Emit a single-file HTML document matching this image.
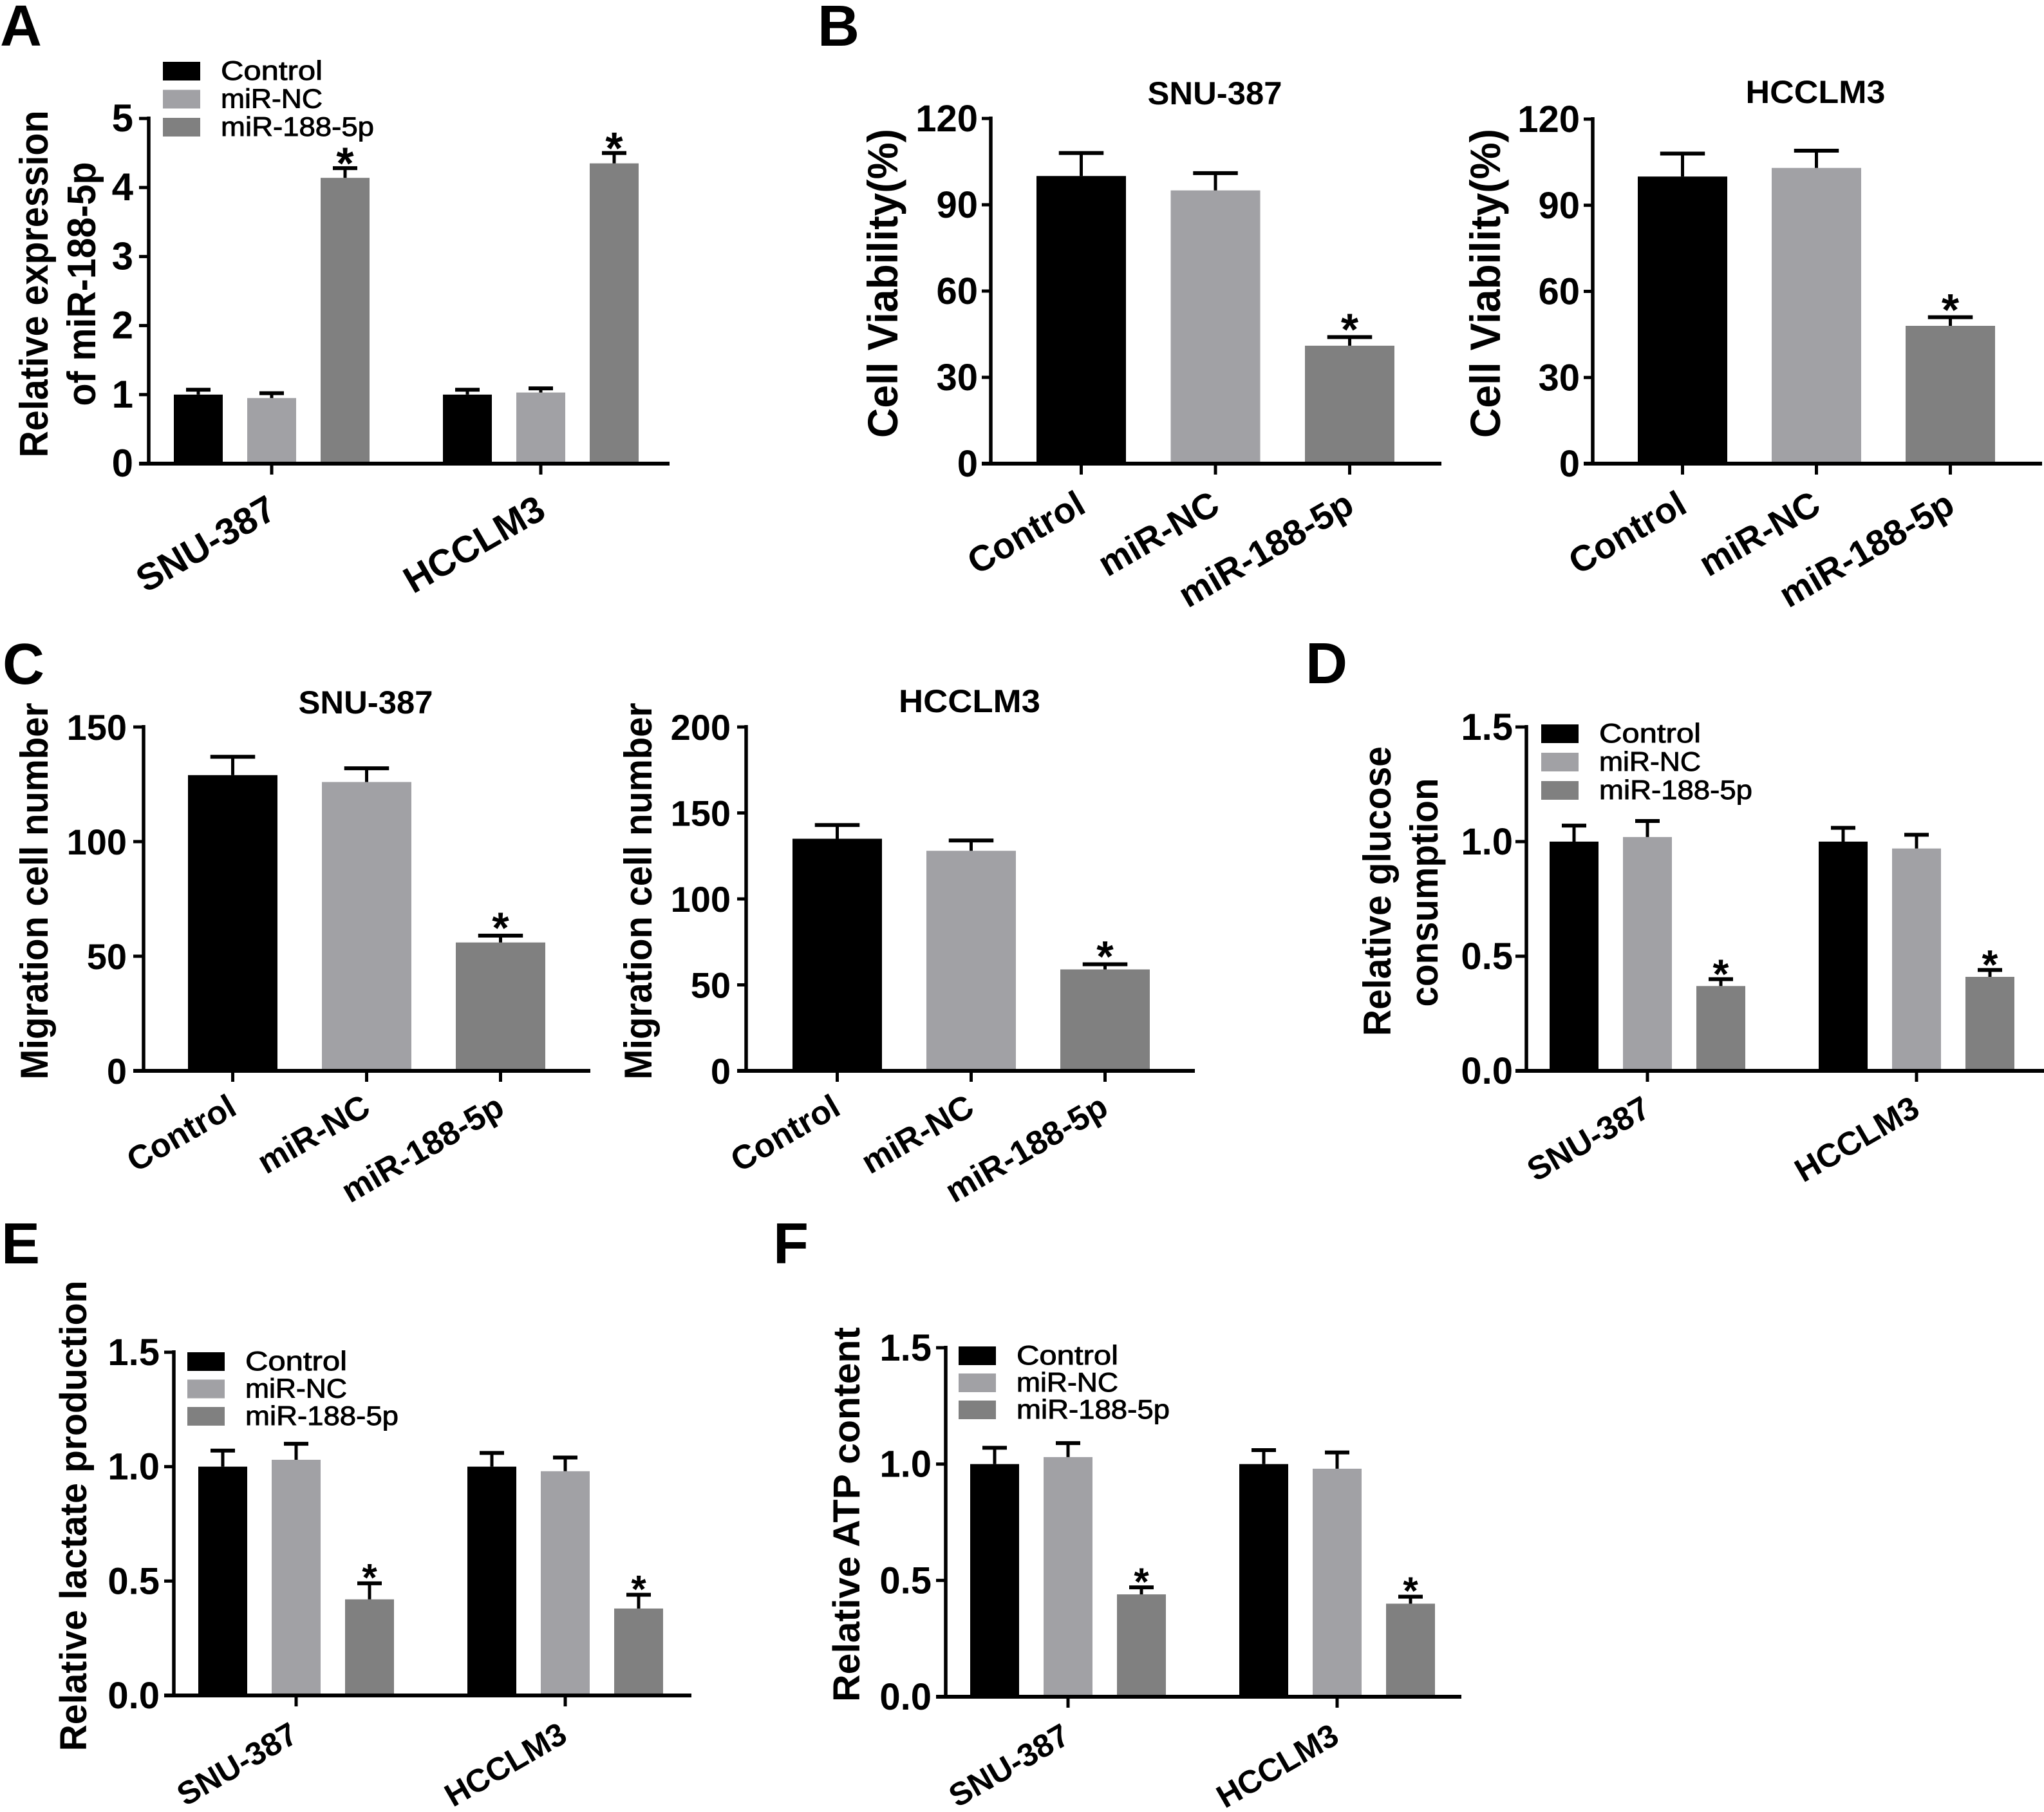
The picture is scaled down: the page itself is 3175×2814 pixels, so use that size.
<!DOCTYPE html>
<html lang="en">
<head>
<meta charset="utf-8">
<title>miR-188-5p bar chart panels</title>
<style>
html,body{margin:0;padding:0;background:#fff;}
svg{display:block;}
text{font-family:"Liberation Sans",Arial,sans-serif;fill:#000;}
</style>
</head>
<body>
<svg id="figure" xmlns="http://www.w3.org/2000/svg" width="3175" height="2814" viewBox="0 0 3175 2814"></svg>
<script>
const seriesNames = ['Control', 'miR-NC', 'miR-188-5p'];
const groupedCategories = ['SNU-387', 'HCCLM3'];

const aTicks = ['0', '1', '2', '3', '4', '5'];
const aValues = [1, 0.95, 4.14, 1, 1.03, 4.35];
const aErrorTops = [1.07, 1.02, 4.28, 1.07, 1.09, 4.5];

const b1Ticks = ['0', '30', '60', '90', '120'];
const b1Values = [100, 95, 41];
const b1ErrorTops = [108, 101, 44];

const b2Ticks = ['0', '30', '60', '90', '120'];
const b2Values = [100, 103, 48];
const b2ErrorTops = [108, 109, 51];

const c1Ticks = ['0', '50', '100', '150'];
const c1Values = [129, 126, 56];
const c1ErrorTops = [137, 132, 59];

const c2Ticks = ['0', '50', '100', '150', '200'];
const c2Values = [135, 128, 59];
const c2ErrorTops = [143, 134, 62];

const dTicks = ['0.0', '0.5', '1.0', '1.5'];
const dValues = [1, 1.02, 0.37, 1, 0.97, 0.41];
const dErrorTops = [1.07, 1.09, 0.40, 1.06, 1.03, 0.44];

const eTicks = ['0.0', '0.5', '1.0', '1.5'];
const eValues = [1, 1.03, 0.42, 1, 0.98, 0.38];
const eErrorTops = [1.07, 1.10, 0.49, 1.06, 1.04, 0.44];

const fTicks = ['0.0', '0.5', '1.0', '1.5'];
const fValues = [1, 1.03, 0.44, 1, 0.98, 0.40];
const fErrorTops = [1.07, 1.09, 0.47, 1.06, 1.05, 0.43];

const starredBar = 2;
const seriesColors = {0: '#000000', 1: '#a1a1a5', 2: '#808080'};
const NS = 'http://www.w3.org/2000/svg';
const svg = document.getElementById('figure');

function make(tag, attrs, parent) {
  const el = document.createElementNS(NS, tag);
  for (const k in attrs) el.setAttribute(k, attrs[k]);
  parent.appendChild(el);
  return el;
}

function drawPanel(p) {
  const g = make('g', {}, svg);
  
  

  const yMax = parseFloat(p.ticks[p.ticks.length - 1]);
  const yScale = v => p.y0 - (v / yMax) * (p.y0 - p.yTop);
  const perGroup = p.grouped ? 3 : 1;
  const xScale = i => {
    const group = Math.floor(i / 3);
    const inner = i % 3;
    return p.firstBar + inner * p.step + (p.grouped ? group * p.groupStep : 0);
  };

  p.values.forEach((v, i) => {
    const s = i % 3;
    const x = xScale(i);
    const bar = make('rect', {x: x, y: yScale(v), width: p.barW, height: p.y0 - yScale(v), fill: seriesColors[s]}, g);
    
    

    const cx = x + p.barW / 2;
    const capY = yScale(p.errors[i]);
    const stem = make('line', {x1: cx, x2: cx, y1: yScale(v), y2: capY, stroke: '#000', 'stroke-width': 5}, g);
    
    
    const cap = make('line', {x1: cx - p.barW / 4, x2: cx + p.barW / 4, y1: capY, y2: capY, stroke: '#000', 'stroke-width': 6}, g);
    
    

    if (s === starredBar) {
      const star = make('text', {x: cx, y: capY - p.starGap + 0.56 * p.starSize, 'font-size': p.starSize, 'font-weight': 'bold', 'text-anchor': 'middle'}, g);
      star.textContent = '*';
      
      
    }
  });

  const yAxis = make('line', {x1: p.axisX, x2: p.axisX, y1: p.yTop - 3, y2: p.y0 + 3, stroke: '#000', 'stroke-width': 5.5}, g);
  
  
  const xAxis = make('line', {x1: p.axisLeft, x2: p.axisRight, y1: p.y0, y2: p.y0, stroke: '#000', 'stroke-width': 6}, g);
  
  

  p.ticks.forEach(t => {
    const y = yScale(parseFloat(t));
    const tick = make('line', {x1: p.axisLeft, x2: p.axisX, y1: y, y2: y, stroke: '#000', 'stroke-width': 5}, g);
    
    
    const label = make('text', {x: p.axisLeft - p.yLabelGap, y: y + 20, 'font-size': p.tickFont, 'font-weight': 'bold', 'text-anchor': 'end'}, g);
    label.textContent = t;
    
    
  });

  p.categories.forEach((c, ci) => {
    const first = ci * perGroup;
    const last = first + perGroup - 1;
    const cx = (xScale(first) + xScale(last) + p.barW) / 2;
    const tick = make('line', {x1: cx, x2: cx, y1: p.y0, y2: p.y0 + 17, stroke: '#000', 'stroke-width': 5}, g);
    
    
    const lx = cx + p.xLabelDx;
    const ly = p.y0 + p.xLabelDy;
    const label = make('text', {x: lx, y: ly, transform: 'rotate(-30 ' + lx + ' ' + ly + ')', 'font-size': p.xFont, 'font-weight': 'bold', 'text-anchor': 'end'}, g);
    label.textContent = c;
    
    
  });

  p.yTitles.forEach(t => {
    const label = make('text', {
      transform: 'translate(' + t.x + ' ' + t.cy + ') rotate(-90)', x: 0, y: 0,
      'font-size': p.yTitleFont, 'font-weight': 'bold', 'text-anchor': 'middle',
      textLength: t.len, lengthAdjust: 'spacingAndGlyphs'
    }, g);
    label.textContent = t.text;
    
    
  });

  if (p.title) {
    const title = make('text', {x: p.title.cx, y: p.title.y, 'font-size': 50, 'font-weight': 'bold', 'text-anchor': 'middle', textLength: p.title.len, lengthAdjust: 'spacingAndGlyphs'}, g);
    title.textContent = p.title.text;
    
    
  }

  if (p.legend) {
    seriesNames.forEach((n, i) => {
      const top = p.legend.y + i * p.legend.gap;
      const swatch = make('rect', {x: p.legend.x, y: top, width: 58, height: 29, fill: seriesColors[i]}, g);
      
      
      const text = make('text', {x: p.legend.x + 90, y: top + 28, 'font-size': 42, stroke: '#000', 'stroke-width': 0.9, textLength: i === 2 ? 238 : 158, lengthAdjust: 'spacingAndGlyphs'}, g);
      text.textContent = n;
      
      
    });
  }

  if (p.letter) {
    const letter = make('text', {x: p.letter.x, y: p.letter.y, 'font-size': 90, 'font-weight': 'bold'}, g);
    letter.textContent = p.letter.text;
    
    
  }
}

drawPanel({id: 'a', grouped: true, categories: groupedCategories, ticks: aTicks, values: aValues, errors: aErrorTops,
  axisX: 231, axisLeft: 216, axisRight: 1040, y0: 720, yTop: 184, firstBar: 270, barW: 76, step: 114, groupStep: 418,
  starSize: 70, starGap: 23, tickFont: 60, yLabelGap: 9, xFont: 58, xLabelDx: 11, xLabelDy: 82, yTitleFont: 62,
  yTitles: [{text: 'Relative expression', x: 74, cy: 441, len: 539}, {text: 'of miR-188-5p', x: 148, cy: 441, len: 379}],
  legend: {x: 253, y: 96, gap: 43.5}, letter: {text: 'A', x: 0, y: 71}});

drawPanel({id: 'b-snu387', grouped: false, categories: seriesNames, ticks: b1Ticks, values: b1Values, errors: b1ErrorTops,
  axisX: 1539, axisLeft: 1525, axisRight: 2239, y0: 720, yTop: 184, firstBar: 1610, barW: 139, step: 208.5,
  starSize: 70, starGap: 27, tickFont: 58, yLabelGap: 6, xFont: 56, xLabelDx: 10, xLabelDy: 74, yTitleFont: 66,
  yTitles: [{text: 'Cell Viability(%)', x: 1394, cy: 440, len: 480}],
  title: {text: 'SNU-387', cx: 1887, y: 162, len: 209}, letter: {text: 'B', x: 1270, y: 71}});

drawPanel({id: 'b-hcclm3', grouped: false, categories: seriesNames, ticks: b2Ticks, values: b2Values, errors: b2ErrorTops,
  axisX: 2474, axisLeft: 2460, axisRight: 3172, y0: 720, yTop: 185, firstBar: 2544, barW: 139, step: 208,
  starSize: 70, starGap: 27, tickFont: 58, yLabelGap: 6, xFont: 56, xLabelDx: 10, xLabelDy: 74, yTitleFont: 66,
  yTitles: [{text: 'Cell Viability(%)', x: 2330, cy: 440, len: 480}],
  title: {text: 'HCCLM3', cx: 2820, y: 160, len: 217}});

drawPanel({id: 'c-snu387', grouped: false, categories: seriesNames, ticks: c1Ticks, values: c1Values, errors: c1ErrorTops,
  axisX: 223, axisLeft: 207, axisRight: 917, y0: 1663, yTop: 1129, firstBar: 292, barW: 139, step: 208,
  starSize: 68, starGap: 27, tickFont: 56, yLabelGap: 10, xFont: 52, xLabelDx: 9, xLabelDy: 66, yTitleFont: 60,
  yTitles: [{text: 'Migration cell number', x: 74, cy: 1384, len: 585}],
  title: {text: 'SNU-387', cx: 568, y: 1108, len: 209}, letter: {text: 'C', x: 4, y: 1062}});

drawPanel({id: 'c-hcclm3', grouped: false, categories: seriesNames, ticks: c2Ticks, values: c2Values, errors: c2ErrorTops,
  axisX: 1159, axisLeft: 1145, axisRight: 1856, y0: 1663, yTop: 1129, firstBar: 1231, barW: 139, step: 208,
  starSize: 68, starGap: 27, tickFont: 56, yLabelGap: 10, xFont: 52, xLabelDx: 8, xLabelDy: 66, yTitleFont: 60,
  yTitles: [{text: 'Migration cell number', x: 1012, cy: 1384, len: 585}],
  title: {text: 'HCCLM3', cx: 1506, y: 1106, len: 220}});

drawPanel({id: 'd', grouped: true, categories: groupedCategories, ticks: dTicks, values: dValues, errors: dErrorTops,
  axisX: 2371, axisLeft: 2354, axisRight: 3175, y0: 1663, yTop: 1129, firstBar: 2407, barW: 76, step: 114, groupStep: 418,
  starSize: 64, starGap: 22, tickFont: 58, yLabelGap: 4, xFont: 51, xLabelDx: 8, xLabelDy: 68, yTitleFont: 60,
  yTitles: [{text: 'Relative glucose', x: 2160, cy: 1384, len: 450}, {text: 'consumption', x: 2233, cy: 1386, len: 355}],
  legend: {x: 2394, y: 1125, gap: 44}, letter: {text: 'D', x: 2028, y: 1061}});

drawPanel({id: 'e', grouped: true, categories: groupedCategories, ticks: eTicks, values: eValues, errors: eErrorTops,
  axisX: 270, axisLeft: 255, axisRight: 1074, y0: 2633, yTop: 2100, firstBar: 308, barW: 76, step: 114, groupStep: 418,
  starSize: 60, starGap: 22, tickFont: 58, yLabelGap: 7, xFont: 50, xLabelDx: 6, xLabelDy: 70, yTitleFont: 58,
  yTitles: [{text: 'Relative lactate production', x: 134, cy: 2354, len: 731}],
  legend: {x: 291, y: 2100, gap: 42.5}, letter: {text: 'E', x: 2, y: 1962}});

drawPanel({id: 'f', grouped: true, categories: groupedCategories, ticks: fTicks, values: fValues, errors: fErrorTops,
  axisX: 1469, axisLeft: 1454, axisRight: 2270, y0: 2635, yTop: 2093, firstBar: 1507, barW: 76, step: 114, groupStep: 418,
  starSize: 60, starGap: 22, tickFont: 58, yLabelGap: 7, xFont: 50, xLabelDx: 6, xLabelDy: 70, yTitleFont: 58,
  yTitles: [{text: 'Relative ATP content', x: 1335, cy: 2352, len: 582}],
  legend: {x: 1489, y: 2091, gap: 42}, letter: {text: 'F', x: 1201, y: 1962}});
</script>
</body>
</html>
